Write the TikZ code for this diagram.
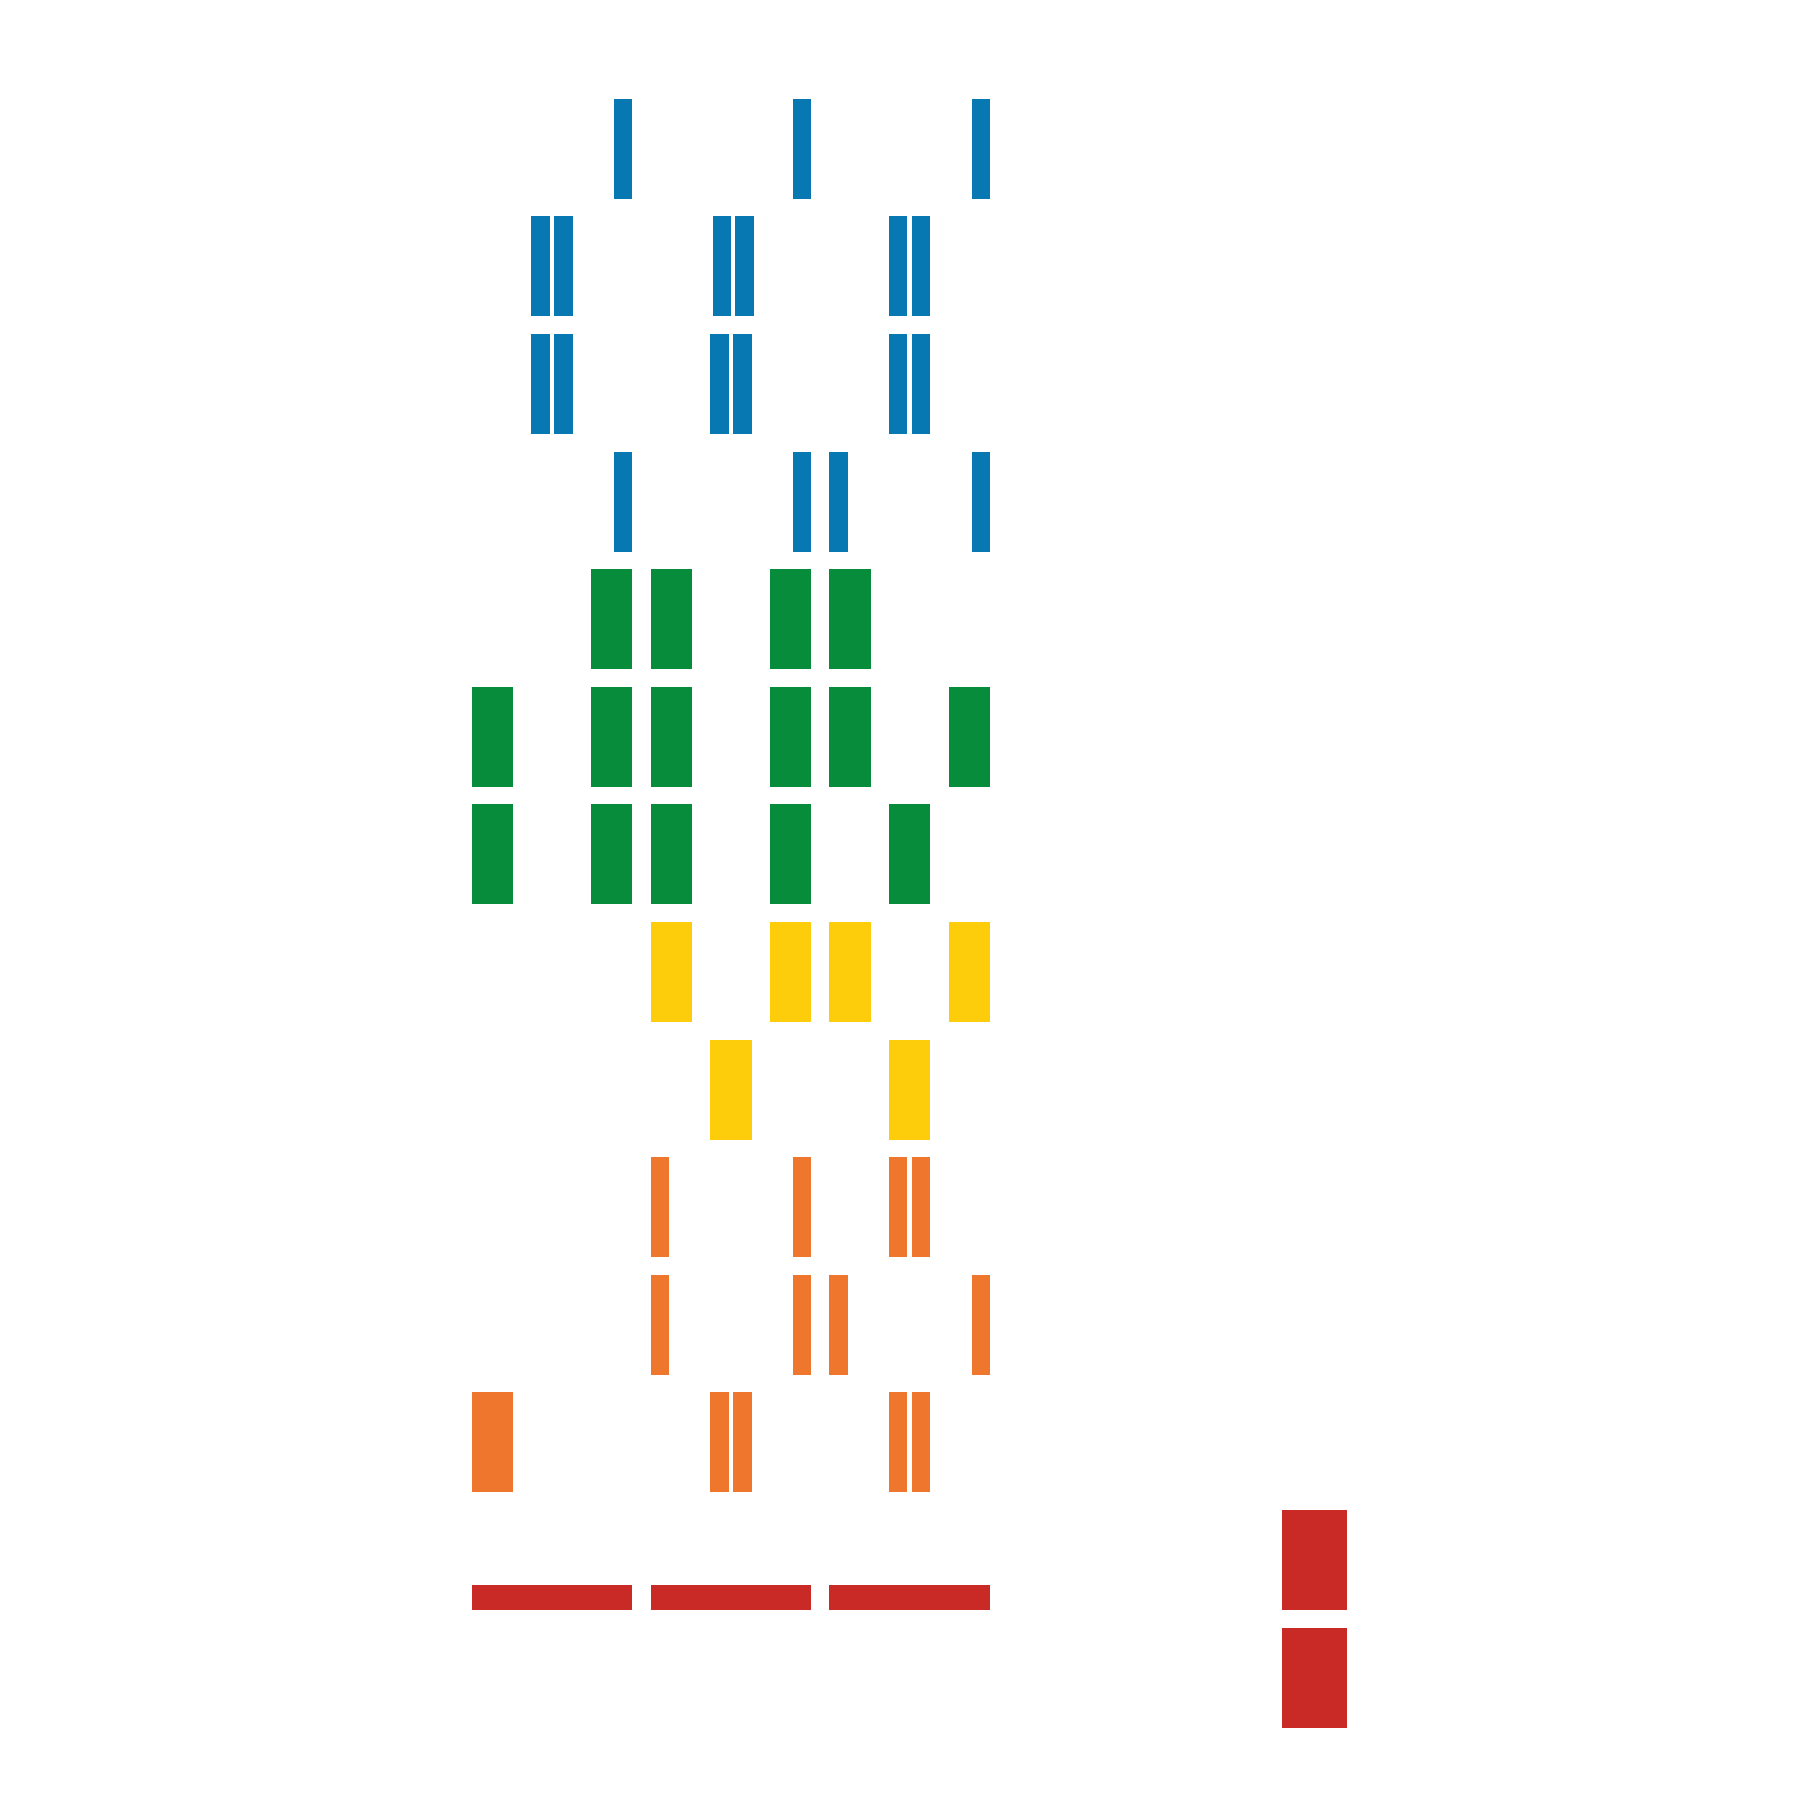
\documentclass[tikz,border=0pt]{standalone}
\usepackage{xcolor}
\definecolor{barblue}{HTML}{0878B2}
\definecolor{bargreen}{HTML}{068C3B}
\definecolor{baryellow}{HTML}{FDCC0A}
\definecolor{barorange}{HTML}{EE772D}
\definecolor{barred}{HTML}{CA2A26}

\newcommand{\colx}[1]{471.8+59.6*(#1)}
\newcommand{\rowy}[1]{98.7+117.6*(#1)}

\begin{document}
\begin{tikzpicture}[
  x=0.01cm, y=-0.01cm,
  thinbar/.style={fill=#1},
  widebar/.style={fill=#1},
  strip/.style={fill=barred}
]
  \useasboundingbox (0,0) rectangle (1800,1800);

  % thin bars: row / column / offset in column / colour
  \foreach \r/\k/\o/\c in {0/2/22.9/barblue, 0/5/22.9/barblue, 0/8/22.9/barblue,
      1/1/0/barblue, 1/1/22.9/barblue, 1/4.04/0/barblue, 1/4.04/22.9/barblue, 1/7/0/barblue, 1/7/22.9/barblue,
      2/1/0/barblue, 2/1/22.9/barblue, 2/4/0/barblue, 2/4/22.9/barblue, 2/7/0/barblue, 2/7/22.9/barblue,
      3/2/22.9/barblue, 3/5/22.9/barblue, 3/6/0/barblue, 3/8/22.9/barblue,
      9/3/0/barorange, 9/5/22.9/barorange, 9/7/0/barorange, 9/7/22.9/barorange,
      10/3/0/barorange, 10/5/22.9/barorange, 10/6/0/barorange, 10/8/22.9/barorange,
      11/4/0/barorange, 11/4/22.9/barorange, 11/7/0/barorange, 11/7/22.9/barorange}
    \fill[thinbar=\c] ({\colx{\k}+\o},{\rowy{\r}}) rectangle ++(18.4,100);

  % wide bars
  \foreach \r/\k/\c in {4/2/bargreen, 4/3/bargreen, 4/5/bargreen, 4/6/bargreen,
      5/0/bargreen, 5/2/bargreen, 5/3/bargreen, 5/5/bargreen, 5/6/bargreen, 5/8/bargreen,
      6/0/bargreen, 6/2/bargreen, 6/3/bargreen, 6/5/bargreen, 6/7/bargreen,
      7/3/baryellow, 7/5/baryellow, 7/6/baryellow, 7/8/baryellow,
      8/4/baryellow, 8/7/baryellow,
      11/0/barorange}
    \fill[widebar=\c] ({\colx{\k}},{\rowy{\r}}) rectangle ++(41.3,100);

  % red strips and the two red blocks
  \foreach \k in {0,3,6}
    \fill[strip] ({\colx{\k}},{\rowy{12}+75}) rectangle ++(160.5,25);
  \foreach \r in {12,13}
    \fill[strip] (1282.3,{\rowy{\r}}) rectangle ++(64.3,100);
\end{tikzpicture}
\end{document}
